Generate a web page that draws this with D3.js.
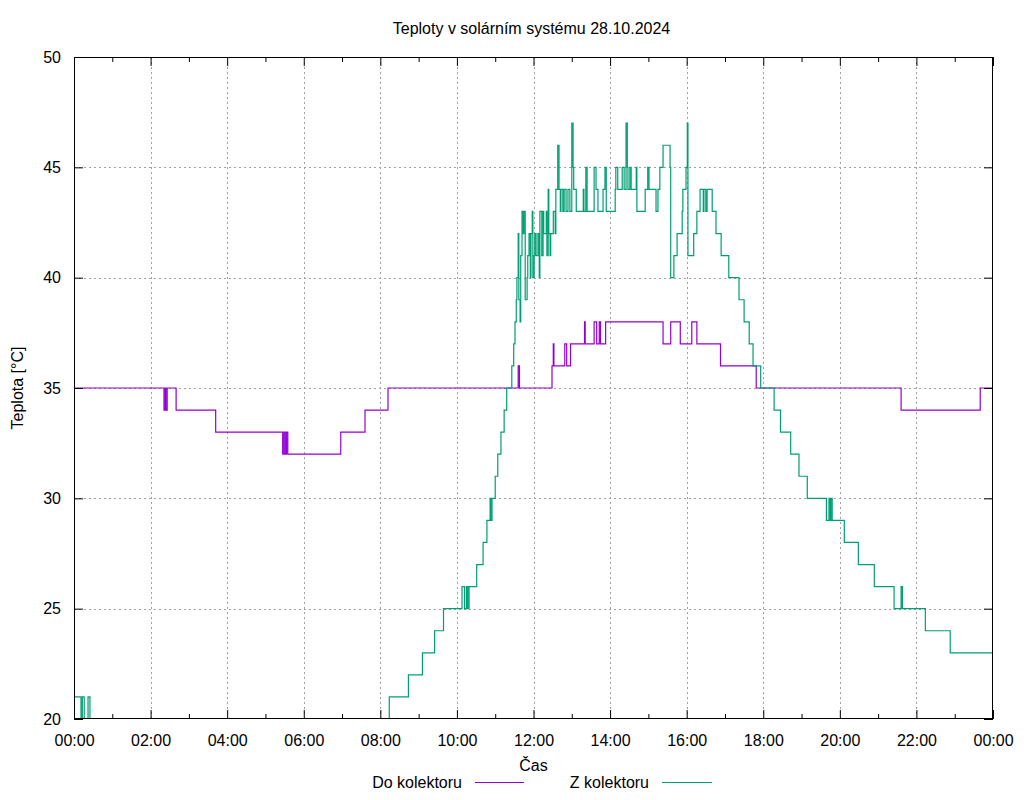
<!DOCTYPE html>
<html>
<head>
<meta charset="utf-8">
<script src="https://cdn.jsdelivr.net/npm/d3@7/dist/d3.min.js"></script>
<style>
html,body{margin:0;padding:0;background:#fff;}
svg text{font-family:"Liberation Sans",Arial,sans-serif;}
</style>
</head>
<body>
<svg id="chart" width="1024" height="800"></svg>
<script>
const titleText = "Teploty v solárním systému 28.10.2024";
const xAxisLabel = "Čas";
const yAxisLabel = "Teplota [°C]";
const seriesNames = ["Do kolektoru", "Z kolektoru"];
const seriesColors = ["#9400d3", "#009e73"];

const xTickLabels = ["00:00","02:00","04:00","06:00","08:00","10:00","12:00","14:00","16:00","18:00","20:00","22:00","00:00"];
const yTickValues = [20,25,30,35,40,45,50];

// Do kolektoru (step data: time, value)
const doTimes = ["00:00","02:21","02:23","02:24","02:26","02:40","03:42","05:27","05:29","05:31","05:33","05:35","06:58","07:36","08:12",
  "11:36","11:38","12:29","12:31","12:32","12:49","12:52","12:58","13:20","13:21","13:35","13:39","13:43","13:45","13:53",
  "15:23","15:35","15:50","16:08","16:16","16:53","17:49","21:36","23:40","24:00"];
const doValues = [35,34,35,34,35,34,33,32,33,32,33,32,33,34,35,
  36,35,36,37,36,37,36,37,38,37,38,37,38,37,38,
  37,38,37,38,37,36,35,34,35,35];

// Z kolektoru
const zTimes = ["00:00","00:11","00:13","00:16","00:22","00:25","08:04","08:14","08:44","09:06","09:25","09:39",
  "10:08","10:12","10:15","10:17","10:19","10:31","10:41","10:47","10:52","10:53","10:55","11:00","11:04","11:09","11:14","11:18",
  "11:26","11:29","11:31","11:33","11:34","11:36","11:37","11:39","11:40","11:42","11:44","11:45","11:47","11:50","11:51","11:53",
  "11:55","11:56","11:58","11:59","12:01","12:02","12:04","12:07","12:09","12:10","12:13","12:15","12:16","12:20","12:21","12:23",
  "12:24","12:26","12:27","12:31","12:34","12:35","12:38","12:40","12:42","12:43","12:46","12:48","12:51","12:54","12:57","13:00",
  "13:02","13:03","13:07","13:18","13:19","13:22","13:24","13:35","13:38","13:41","13:49","13:52","13:54","14:08","14:09","14:12",
  "14:19","14:22","14:25","14:27","14:28","14:31","14:33","14:41","14:42","14:55","14:59","15:01","15:12","15:15","15:18","15:23",
  "15:34","15:35","15:40","15:45","15:53","15:54","15:59","16:01","16:02","16:11","16:16","16:21","16:26","16:27","16:30","16:32",
  "16:40","16:46","16:54","17:06","17:22","17:30","17:38","17:44","17:56","18:17","18:27","18:43","18:56","19:09","19:39","19:43",
  "19:45","19:46","19:48","20:07","20:29","20:54","21:25","21:36","21:38","22:14","22:53","24:00"];
const zValues = [21,20,21,19,21,19,20,21,22,23,24,25,
  26,25,26,25,26,27,28,29,30,29,30,31,32,33,34,35,
  36,37,38,39,40,42,39,38,41,43,42,43,39,40,41,42,
  40,42,43,40,41,42,41,42,40,43,41,43,42,43,41,44,
  42,41,42,43,42,44,46,44,43,44,43,44,43,44,43,47,
  45,44,43,44,43,45,43,45,44,43,44,45,43,44,45,44,
  45,44,47,45,44,45,44,45,43,44,45,44,43,44,45,46,
  45,40,41,42,43,44,45,47,41,42,43,44,43,44,43,44,
  43,42,41,40,39,38,37,36,35,34,33,32,31,30,29,30,
  29,30,29,28,27,26,25,26,25,24,23,23];

const toMin = s => { const [h,m] = s.split(":").map(Number); return h*60+m; };

const W = 1024, H = 800;
const margin = {left:74, right:31, top:57, bottom:81};
const svg = d3.select("#chart");
const x0 = margin.left, x1 = W - margin.right, y0 = margin.top, y1 = H - margin.bottom;

const x = d3.scaleLinear().domain([0,1440]).range([x0, x1]);
const y = d3.scaleLinear().domain([20,50]).range([y1, y0]);

const majorX = d3.range(0, 1441, 120);
const minorX = d3.range(60, 1440, 120);

// grid
const grid = svg.append("g").attr("stroke","#a0a0a0").attr("stroke-width",1).attr("stroke-dasharray","2,3");
majorX.slice(1,-1).forEach(t => {
  grid.append("line").attr("x1",Math.round(x(t))+0.5).attr("x2",Math.round(x(t))+0.5).attr("y1",y0).attr("y2",y1);
});
yTickValues.slice(1,-1).forEach(v => {
  grid.append("line").attr("x1",x0).attr("x2",x1).attr("y1",Math.round(y(v))+0.5).attr("y2",Math.round(y(v))+0.5);
});

// clip
svg.append("clipPath").attr("id","plotclip").append("rect")
  .attr("x",x0).attr("y",y0).attr("width",x1-x0).attr("height",y1-y0);

const line = d3.line().x(d => x(d.t)).y(d => y(d.v)).curve(d3.curveStepAfter);
const doData = doTimes.map((t,i)=>({t:toMin(t), v:doValues[i]}));
const zData = zTimes.map((t,i)=>({t:toMin(t), v:zValues[i]}));

const plot = svg.append("g").attr("clip-path","url(#plotclip)");
plot.append("path").datum(doData).attr("d",line).attr("fill","none")
  .attr("stroke",seriesColors[0]).attr("stroke-width",1.2);
plot.append("path").datum(zData).attr("d",line).attr("fill","none")
  .attr("stroke",seriesColors[1]).attr("stroke-width",1.2);

// axes (gnuplot-style inward ticks, mirrored)
const axBottom = d3.axisBottom(x).tickValues(majorX).tickSize(-9).tickPadding(16)
  .tickFormat((d,i)=>xTickLabels[i]);
const gB = svg.append("g").attr("transform",`translate(0,${y1})`).call(axBottom);
const axTop = d3.axisTop(x).tickValues(majorX).tickSize(-9).tickFormat("");
const gT = svg.append("g").attr("transform",`translate(0,${y0})`).call(axTop);
const axBm = d3.axisBottom(x).tickValues(minorX).tickSize(-5).tickFormat("");
const gBm = svg.append("g").attr("transform",`translate(0,${y1})`).call(axBm);
const axTm = d3.axisTop(x).tickValues(minorX).tickSize(-5).tickFormat("");
const gTm = svg.append("g").attr("transform",`translate(0,${y0})`).call(axTm);
const axL = d3.axisLeft(y).tickValues(yTickValues).tickSize(-9).tickPadding(13).tickFormat(d3.format("d"));
const gL = svg.append("g").attr("transform",`translate(${x0},0)`).call(axL);
const axR = d3.axisRight(y).tickValues(yTickValues).tickSize(-9).tickFormat("");
const gR = svg.append("g").attr("transform",`translate(${x1},0)`).call(axR);

[gB,gT,gBm,gTm,gL,gR].forEach(g=>{
  g.select(".domain").remove();
  g.selectAll("line").attr("stroke","#000").attr("stroke-width",1);
  g.selectAll("text").attr("fill","#000").style("font-size","16px").style("font-family",'"Liberation Sans",Arial,sans-serif');
});

// border
svg.append("rect").attr("x",x0+0.5).attr("y",y0+0.5).attr("width",x1-x0-1).attr("height",y1-y0-1)
  .attr("fill","none").attr("stroke","#000").attr("stroke-width",1);

// title
svg.append("text").attr("x",(x0+x1)/2 - 2).attr("y",34).attr("text-anchor","middle")
  .style("font-size","16px").text(titleText);
// axis labels
svg.append("text").attr("x",(x0+x1)/2).attr("y",771).attr("text-anchor","middle")
  .style("font-size","16px").text(xAxisLabel);
svg.append("text").attr("transform",`translate(23,${(y0+y1)/2}) rotate(-90)`).attr("text-anchor","middle")
  .style("font-size","16px").text(yAxisLabel);

// legend
const legY = 782;
const legendItems = [{textEnd:462, lx0:475, lx1:524},{textEnd:649, lx0:662, lx1:712}];
legendItems.forEach((it,i)=>{
  svg.append("text").attr("x",it.textEnd).attr("y",legY+6).attr("text-anchor","end")
    .style("font-size","16px").text(seriesNames[i]);
  svg.append("line").attr("x1",it.lx0).attr("x2",it.lx1).attr("y1",legY+0.5).attr("y2",legY+0.5)
    .attr("stroke",seriesColors[i]).attr("stroke-width",1.2);
});
</script>
</body>
</html>
